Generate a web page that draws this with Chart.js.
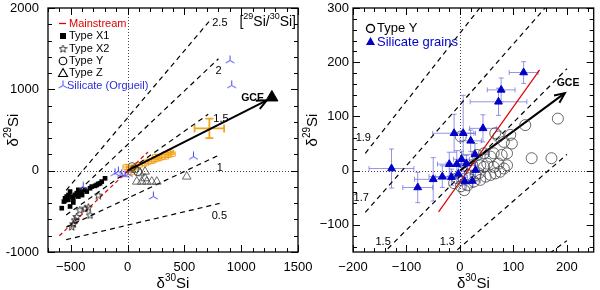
<!DOCTYPE html>
<html>
<head>
<meta charset="utf-8">
<script src="https://cdn.jsdelivr.net/npm/chart.js@4/dist/chart.umd.min.js"></script>
<style>
html, body { margin: 0; padding: 0; background: #fff; }
#wrap { position: relative; width: 600px; height: 290px; overflow: hidden; }
#wrap canvas { position: absolute; top: 0; }
</style>
</head>
<body>
<div id="wrap">
  <canvas id="chartLeft" width="330" height="290" style="left:0"></canvas>
  <canvas id="chartRight" width="300" height="290" style="left:300px"></canvas>
</div>
<script>
// ---------- left panel: presolar SiC grains ----------
const leftXTicks = [-500, 0, 500, 1000, 1500];
const leftYTicks = [-1000, 0, 1000, 2000];
const leftRatioLabels = ['0.5', '1', '1.5', '2', '2.5'];
const leftRatioX = [[-540, 810], [-540, 800], [-540, 710], [-540, 800], [-540, 740]];
const leftRatioY = [[-848, -403], [-696, 188], [-545, 693], [-393, 1376], [-241, 1871]];
const leftRatioLabelPos = [[741, -563], [785, 29], [755, 640], [775, 1230], [745, 1820]];

const mainstreamLX = [-600, 180];
const mainstreamLY = [-800, 230];
const gceLX = [0, 1225];
const gceLY = [0, 865];
const gceTipL = [1270, 900];

const x1X = [-579, -550, -535, -521, -506, -491, -477, -462, -447, -433, -418, -403, -374, -359, -330, -315, -286, -271, -257, -242, -227, -198, -506, -433, -477, -560, -520, -400];
const x1Y = [-461, -339, -318, -359, -257, -318, -339, -298, -277, -318, -277, -257, -236, -257, -216, -196, -187, -175, -163, -155, -134, -94, -440, -236, -391, -380, -300, -300];

const x2X = [-447, -462, -477, -491, -374, -345, -330, -257, -420];
const x2Y = [-563, -604, -653, -685, -461, -448, -543, -300, -480];

const zX = [81, 125, 169, 213, 257, 110, 154, 154, 521];
const zY = [-135, -135, -135, -135, -135, -32, -12, -94, -73];

const yLX = [60, 90, 40];
const yLY = [20, -10, 50];

const orgX = [902, 917, 580, 227, -110, -81, -51, -22, 7, -390];
const orgY = [1355, 1049, 171, -318, -32, -12, -41, -57, -41, -200];

const orangeX = [22, 42, 66, 154, 183, 213, 242, 271, 301, 330, 359, 389, -10, 30, 100, 250, 330, 375];
const orangeY = [9, 29, 49, 90, 110, 119, 139, 151, 164, 171, 192, 204, 45, -20, 70, 170, 200, 225];
const orangeEX = [30, 30, 30, 30, 30, 30, 30, 30, 30, 30, 30, 30, 30, 30, 30, 30, 30, 30];
const orangeEY = [30, 30, 30, 30, 30, 30, 30, 30, 30, 30, 30, 30, 30, 30, 30, 30, 30, 30];
const bigOrangeX = [720];
const bigOrangeY = [519];
const bigOrangeEX = [130];
const bigOrangeEY = [120];

// ---------- right panel: silicate grains ----------
const rightXTicks = [-200, -100, 0, 100, 200];
const rightYTicks = [-100, 0, 100, 200, 300];
const rightRatioLabels = ['1.9', '1.7', '1.5', '1.3', ''];
const rightRatioX = [[-177, 37], [-177, 159], [-135, 200], [-5, 200], [168, 200]];
const rightRatioY = [[32, 300], [-77, 300], [-144, 188], [-146, 30], [-152, -129]];
const rightRatioLabelPos = [[-195, 60], [-199, -50], [-158, -131], [-38, -131]];

const mainstreamRX = [-40, 149];
const mainstreamRY = [-76, 186];
const gceRX = [0, 196];
const gceRY = [0, 143];

const silX = [-128, -79, -50, -33, -20, -16, -6, -11, 6, 43, 20, 28, 3, 29, 9, 23, 72, 77, 119, -3, 12];
const silY = [4, -31, -16, -11, 12, -12, 12, 69, 69, 78, 55, 30, 21, 1, -20, -19, 127, 149, 181, -6, 13];
const silEX = [42, 28, 35, 25, 22, 30, 20, 40, 20, 25, 20, 25, 15, 15, 15, 15, 53, 26, 27, 15, 15];
const silEY = [36, 28, 40, 20, 22, 15, 25, 35, 70, 25, 20, 20, 15, 15, 15, 12, 25, 22, 20, 15, 15];

const yRX = [1.5, 66, 72, 82, 94, 97, 122, 183, 134, 171, 88, 88, 82, 72, 63, 51, 45, 38, 35, 48, 57, 66, 75, 38, 26, 14, 1.5, 8, -5, -11, 17, 29, 57, 45, 63, 78, 32, 23];
const yRY = [63, 69, 63, 53, 66, 50, 84, 96, 23, 23, 32, 10, 4, 13, 7, 13, 7, 10, -5, -11, -8, -5, -2, -17, -20, -27, -29, -36, -14, -23, -14, -8, 26, 32, 32, 29, 29, 10];

const FONT = '"Liberation Sans", Arial, Helvetica, sans-serif';

const pts = (xs, ys) => xs.map((x, i) => ({ x, y: ys[i] }));

function makeTripod(color, size) {
    const c = document.createElement('canvas'); c.width = c.height = size;
    const g = c.getContext('2d'); const m = size / 2, r = size / 2 - 0.5;
    g.strokeStyle = color; g.lineWidth = 1;
    g.beginPath();
    g.moveTo(m, m); g.lineTo(m, m - r);
    g.moveTo(m, m); g.lineTo(m - r * 0.87, m + r * 0.5);
    g.moveTo(m, m); g.lineTo(m + r * 0.87, m + r * 0.5);
    g.stroke();
    return c;
}
function makeStar(size) {
    const c = document.createElement('canvas'); c.width = c.height = size;
    const g = c.getContext('2d'); const m = size / 2, ro = size / 2 - 0.5, ri = ro * 0.42;
    g.strokeStyle = '#000'; g.lineWidth = 0.8;
    g.beginPath();
    for (let k = 0; k < 10; k++) {
        const r = k % 2 ? ri : ro, a = -Math.PI / 2 + k * Math.PI / 5;
        const px = m + r * Math.cos(a), py = m + 0.5 + r * Math.sin(a);
        k ? g.lineTo(px, py) : g.moveTo(px, py);
    }
    g.closePath(); g.stroke();
    return c;
}
const tripod = makeTripod('#4646f0', 11);
const star = makeStar(9);

function refLines(xs, ys, color) {
    return xs.map((x, i) => ({ data: pts(x, ys[i]), showLine: true, borderColor: color, borderWidth: 1.2,
        borderDash: [5, 4], pointRadius: 0, fill: false }));
}

function richText(ctx, parts, x, y, align, size, weight) {
    const sup = Math.round(size * 0.65), w0 = weight ? weight + ' ' : '';
    let w = 0;
    parts.forEach(([t, s]) => { ctx.font = w0 + (s ? sup : size) + 'px ' + FONT; w += ctx.measureText(t).width; });
    let cx = align === 'center' ? x - w / 2 : align === 'right' ? x - w : x;
    ctx.textAlign = 'left'; ctx.textBaseline = 'middle';
    parts.forEach(([t, s]) => {
        ctx.font = w0 + (s ? sup : size) + 'px ' + FONT;
        ctx.fillText(t, cx, s ? y - size * 0.4 : y);
        cx += ctx.measureText(t).width;
    });
}

function decoPlugin(cfg) {
    return {
        id: 'deco',
        beforeDatasetsDraw(chart) {
            const { ctx, chartArea: a, scales: { x, y } } = chart;
            ctx.save();
            ctx.strokeStyle = '#444'; ctx.lineWidth = 1; ctx.setLineDash([1, 2]);
            const x0 = Math.round(x.getPixelForValue(0)) + 0.5, y0 = Math.round(y.getPixelForValue(0)) + 0.5;
            ctx.beginPath();
            ctx.moveTo(x0, a.top); ctx.lineTo(x0, a.bottom);
            ctx.moveTo(a.left, y0); ctx.lineTo(a.right, y0);
            ctx.stroke();
            ctx.setLineDash([]);
            // error bars
            chart.data.datasets.forEach(ds => {
                if (!ds.errX) return;
                ctx.strokeStyle = ds.errColor; ctx.lineWidth = ds.errWidth || 1;
                const cap = ds.cap || 4;
                ctx.beginPath();
                ds.data.forEach((p, i) => {
                    const px = x.getPixelForValue(p.x), py = y.getPixelForValue(p.y);
                    const l = x.getPixelForValue(p.x - ds.errX[i]), r = x.getPixelForValue(p.x + ds.errX[i]);
                    const t = y.getPixelForValue(p.y + ds.errY[i]), b = y.getPixelForValue(p.y - ds.errY[i]);
                    ctx.moveTo(l, py); ctx.lineTo(r, py);
                    ctx.moveTo(px, t); ctx.lineTo(px, b);
                    ctx.moveTo(l, py - cap / 2); ctx.lineTo(l, py + cap / 2);
                    ctx.moveTo(r, py - cap / 2); ctx.lineTo(r, py + cap / 2);
                    ctx.moveTo(px - cap / 2, t); ctx.lineTo(px + cap / 2, t);
                    ctx.moveTo(px - cap / 2, b); ctx.lineTo(px + cap / 2, b);
                });
                ctx.stroke();
            });
            ctx.restore();
        },
        afterDatasetsDraw(chart) {
            const { ctx, chartArea: a, scales: { x, y } } = chart;
            ctx.save();
            // arrow heads
            chart.data.datasets.forEach((ds, i) => {
                if (!ds.arrow) return;
                const el = chart.getDatasetMeta(i).data;
                const p = el[el.length - 1], q = el[el.length - 2];
                const ang = Math.atan2(p.y - q.y, p.x - q.x), L = 11;
                ctx.strokeStyle = ds.borderColor; ctx.lineWidth = ds.borderWidth;
                ctx.beginPath();
                ctx.moveTo(p.x - L * Math.cos(ang - 0.42), p.y - L * Math.sin(ang - 0.42));
                ctx.lineTo(p.x, p.y);
                ctx.lineTo(p.x - L * Math.cos(ang + 0.42), p.y - L * Math.sin(ang + 0.42));
                ctx.stroke();
            });
            // frame and inward ticks on all four sides
            ctx.strokeStyle = '#000'; ctx.lineWidth = 1;
            ctx.beginPath();
            const nx = Math.round((x.max - x.min) / cfg.minX);
            for (let k = 0; k <= nx; k++) {
                const v = Math.ceil(x.min / cfg.minX) * cfg.minX + k * cfg.minX;
                if (v > x.max) break;
                const px = Math.round(x.getPixelForValue(v)) + 0.5;
                const len = Math.abs(v / cfg.majX - Math.round(v / cfg.majX)) < 1e-6 ? 7 : 4;
                ctx.moveTo(px, a.bottom); ctx.lineTo(px, a.bottom - len);
                ctx.moveTo(px, a.top); ctx.lineTo(px, a.top + len);
            }
            const ny = Math.round((y.max - y.min) / cfg.minY);
            for (let k = 0; k <= ny; k++) {
                const v = Math.ceil(y.min / cfg.minY) * cfg.minY + k * cfg.minY;
                if (v > y.max) break;
                const py = Math.round(y.getPixelForValue(v)) + 0.5;
                const len = Math.abs(v / cfg.majY - Math.round(v / cfg.majY)) < 1e-6 ? 7 : 4;
                ctx.moveTo(a.left, py); ctx.lineTo(a.left + len, py);
                ctx.moveTo(a.right, py); ctx.lineTo(a.right - len, py);
            }
            ctx.stroke();
            ctx.lineWidth = 1.3;
            ctx.strokeRect(a.left, a.top, a.right - a.left, a.bottom - a.top);
            ctx.restore();
        },
        afterDraw(chart) {
            const { ctx, chartArea: a, scales: { x, y } } = chart;
            ctx.save();
            ctx.fillStyle = '#000';
            // axis titles
            richText(ctx, [['δ', 0], ['30', 1], ['Si', 0]], (a.left + a.right) / 2, 284, 'center', 15);
            ctx.translate(cfg.yTitleX, (a.top + a.bottom) / 2);
            ctx.rotate(-Math.PI / 2);
            richText(ctx, [['δ', 0], ['29', 1], ['Si', 0]], 0, 0, 'center', 15);
            ctx.setTransform(1, 0, 0, 1, 0, 0);
            // labels next to the ratio lines
            ctx.font = '11px ' + FONT; ctx.textAlign = 'left'; ctx.textBaseline = 'middle';
            cfg.ratioLabels.forEach((t, i) => {
                if (!t || !cfg.ratioPos[i]) return;
                ctx.fillText(t, x.getPixelForValue(cfg.ratioPos[i][0]), y.getPixelForValue(cfg.ratioPos[i][1]));
            });
            // GCE label
            ctx.font = 'bold 10.5px ' + FONT; ctx.textAlign = 'center';
            ctx.fillText('GCE', x.getPixelForValue(cfg.gcePos[0]), y.getPixelForValue(cfg.gcePos[1]));
            cfg.extra(ctx, a);
            ctx.restore();
        }
    };
}

function buildOptions(o) {
    return {
        responsive: false, animation: false, events: [],
        layout: { padding: { top: 8, right: o.padRight, left: 0, bottom: 0 } },
        plugins: { legend: { display: false }, tooltip: { enabled: false } },
        scales: {
            x: { type: 'linear', min: o.xmin, max: o.xmax,
                grid: { display: false, drawTicks: false, tickLength: 0 }, border: { display: false },
                ticks: { autoSkip: false, maxRotation: 0, color: '#000', padding: 8,
                    font: { family: FONT, size: 13 }, callback: v => v < 0 ? '\u2212' + Math.abs(v) : String(v) },
                afterBuildTicks: s => { s.ticks = o.xticks.map(v => ({ value: v })); },
                afterFit: s => { s.height = 38; s.paddingLeft = 0; s.paddingRight = 0; } },
            y: { type: 'linear', min: o.ymin, max: o.ymax,
                grid: { display: false, drawTicks: false, tickLength: 0 }, border: { display: false },
                ticks: { autoSkip: false, color: '#000', padding: o.ypad,
                    font: { family: FONT, size: 13 }, callback: v => v < 0 ? o.minus + Math.abs(v) : String(v) },
                afterBuildTicks: s => { s.ticks = o.yticks.map(v => ({ value: v })); },
                afterFit: s => { s.width = o.yw; s.paddingTop = 0; s.paddingBottom = 0; } }
        }
    };
}

// ---------- left chart ----------
new Chart(document.getElementById('chartLeft'), {
    type: 'scatter',
    data: { datasets: [
        { data: pts([gceTipL[0]], [gceTipL[1]]), pointStyle: 'triangle', pointRadius: 7, backgroundColor: '#000', borderColor: '#000' },
        { data: pts(gceLX, gceLY), showLine: true, borderColor: '#000', borderWidth: 2, pointRadius: 0, arrow: true },
        { data: pts(orangeX, orangeY), errX: orangeEX, errY: orangeEY, errColor: '#f3a51e', errWidth: 1.2, cap: 5, pointRadius: 0 },
        { data: pts(bigOrangeX, bigOrangeY), errX: bigOrangeEX, errY: bigOrangeEY, errColor: '#f3a51e', errWidth: 1.8, cap: 8, pointRadius: 0 },
        { data: pts(yLX, yLY), pointStyle: 'circle', pointRadius: 4, backgroundColor: 'rgba(0,0,0,0)', borderColor: '#333', borderWidth: 0.8 },
        { data: pts(orgX, orgY), pointStyle: tripod, pointRadius: 5 },
        { data: pts(x1X, x1Y), pointStyle: 'rect', pointRadius: 3.3, backgroundColor: '#000', borderColor: '#000', borderWidth: 0 },
        { data: pts(x2X, x2Y), pointStyle: star, pointRadius: 4 },
        { data: pts(zX, zY), pointStyle: 'triangle', pointRadius: 5, backgroundColor: 'rgba(0,0,0,0)', borderColor: '#444', borderWidth: 0.8 },
        { data: pts(mainstreamLX, mainstreamLY), showLine: true, borderColor: '#e00000', borderWidth: 1.2, borderDash: [4, 3], pointRadius: 0 },
        ...refLines(leftRatioX, leftRatioY, '#000')
    ] },
    options: buildOptions({ xmin: -700, xmax: 1500, xticks: leftXTicks, ymin: -1000, ymax: 2000, yticks: leftYTicks,
        yw: 48, ypad: 9, minus: '-', padRight: 32 }),
    plugins: [decoPlugin({
        majX: 500, minX: 100, majY: 1000, minY: 200, yTitleX: 14,
        ratioLabels: leftRatioLabels, ratioPos: leftRatioLabelPos, gcePos: [1100, 898],
        extra(ctx, a) {
            const lx = 63, tx = 69, rows = [23.5, 36, 48.5, 61, 73, 85.5];
            ctx.textAlign = 'left'; ctx.textBaseline = 'middle'; ctx.font = '11px ' + FONT;
            ctx.strokeStyle = '#e00000'; ctx.lineWidth = 1.3;
            ctx.beginPath(); ctx.moveTo(59, rows[0]); ctx.lineTo(66, rows[0]); ctx.stroke();
            ctx.fillStyle = '#e00000'; ctx.fillText('Mainstream', tx, rows[0]);
            ctx.fillStyle = '#000';
            ctx.fillRect(lx - 3, rows[1] - 3, 6, 6); ctx.fillText('Type X1', tx, rows[1]);
            ctx.drawImage(star, lx - 4.5, rows[2] - 4.5); ctx.fillText('Type X2', tx, rows[2]);
            ctx.strokeStyle = '#000'; ctx.lineWidth = 1.1;
            ctx.beginPath(); ctx.arc(lx, rows[3], 3.8, 0, Math.PI * 2); ctx.stroke(); ctx.fillText('Type Y', tx, rows[3]);
            ctx.beginPath(); ctx.moveTo(lx, rows[4] - 4.5); ctx.lineTo(lx + 4.5, rows[4] + 3.5); ctx.lineTo(lx - 4.5, rows[4] + 3.5); ctx.closePath(); ctx.stroke();
            ctx.fillText('Type Z', tx, rows[4]);
            ctx.drawImage(tripod, lx - 5.5, rows[5] - 5.5);
            ctx.fillStyle = '#2c2cd8'; ctx.fillText('Silicate (Orgueil)', tx - 2, rows[5]);
            ctx.fillStyle = '#000';
            richText(ctx, [['[', 0], ['29', 1], ['Si/', 0], ['30', 1], ['Si]', 0]], a.right - 2, a.top + 14, 'right', 14);
        }
    })]
});

// ---------- right chart ----------
new Chart(document.getElementById('chartRight'), {
    type: 'scatter',
    data: { datasets: [
        { data: pts(silX, silY), errX: silEX, errY: silEY, errColor: 'rgba(96,96,215,0.75)', errWidth: 0.9, cap: 5,
          pointStyle: 'triangle', pointRadius: 4.5, backgroundColor: '#0000c8', borderColor: '#0000c8', borderWidth: 1 },
        { data: pts(yRX, yRY), pointStyle: 'circle', pointRadius: 5.5, backgroundColor: 'rgba(0,0,0,0)', borderColor: '#444', borderWidth: 0.8 },
        { data: pts(gceRX, gceRY), showLine: true, borderColor: '#000', borderWidth: 2, pointRadius: 0, arrow: true },
        { data: pts(mainstreamRX, mainstreamRY), showLine: true, borderColor: '#e00000', borderWidth: 1.2, pointRadius: 0 },
        ...refLines(rightRatioX, rightRatioY, '#000')
    ] },
    options: buildOptions({ xmin: -200, xmax: 250, xticks: rightXTicks, ymin: -150, ymax: 300, yticks: rightYTicks,
        yw: 53, ypad: 4, minus: '\u2212', padRight: 3 }),
    plugins: [decoPlugin({
        majX: 100, minX: 20, majY: 100, minY: 20, yTitleX: 13,
        ratioLabels: rightRatioLabels, ratioPos: rightRatioLabelPos, gcePos: [202, 161],
        extra(ctx) {
            ctx.textAlign = 'left'; ctx.textBaseline = 'middle'; ctx.font = '13px ' + FONT;
            ctx.strokeStyle = '#000'; ctx.lineWidth = 1.4;
            ctx.beginPath(); ctx.arc(70.5, 28.5, 4, 0, Math.PI * 2); ctx.stroke();
            ctx.fillStyle = '#000'; ctx.fillText('Type Y', 77, 28.5);
            ctx.fillStyle = '#0000c8';
            ctx.beginPath(); ctx.moveTo(70.5, 37); ctx.lineTo(75, 45); ctx.lineTo(66, 45); ctx.closePath(); ctx.fill();
            ctx.fillText('Silicate grains', 77, 42);
        }
    })]
});
</script>
</body>
</html>
